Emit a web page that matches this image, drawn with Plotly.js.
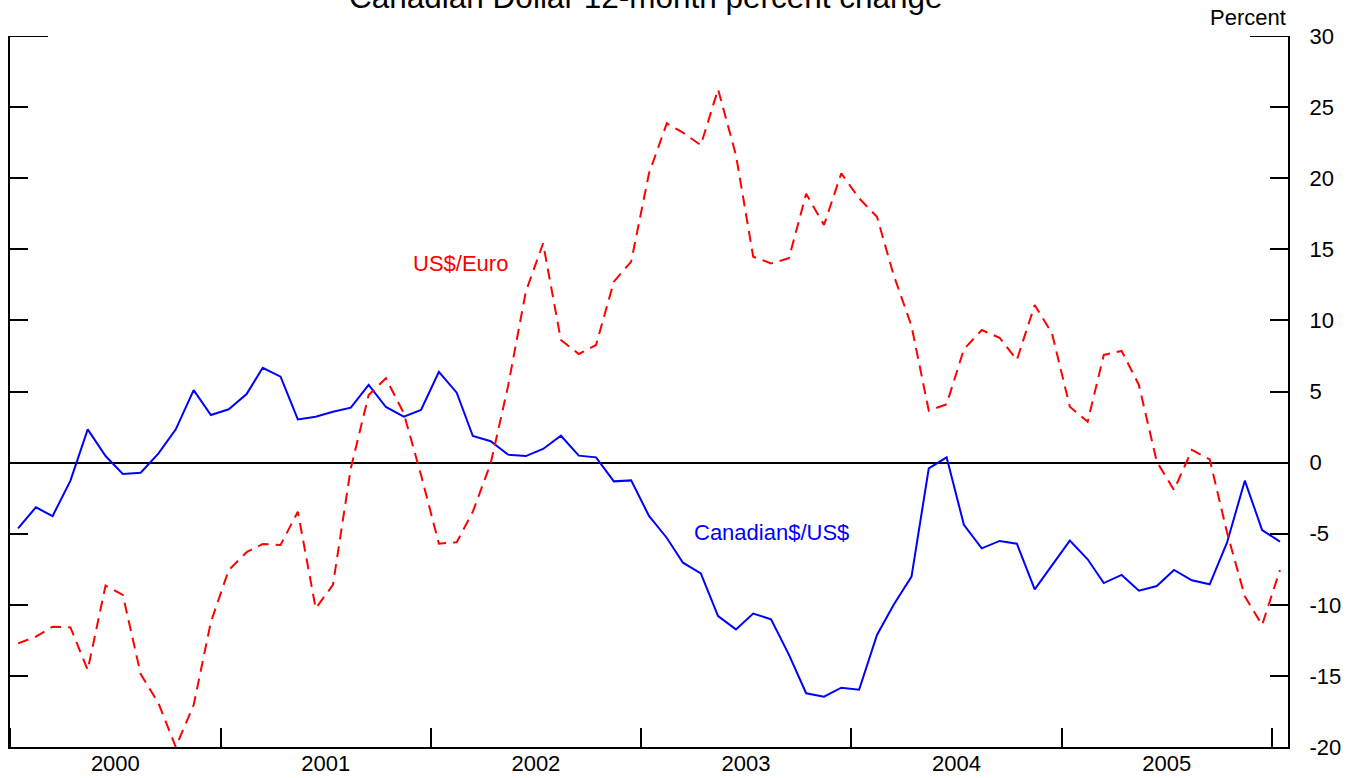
<!DOCTYPE html>
<html>
<head>
<meta charset="utf-8">
<script src="https://cdn.plot.ly/plotly-3.0.1.min.js"></script>
<style>
  html, body { margin: 0; padding: 0; background: #fff; }
  #chart { width: 1352px; height: 778px; }
</style>
</head>
<body>
<div id="chart"></div>
<script>
const months = [
  '2000-01','2000-02','2000-03','2000-04','2000-05','2000-06','2000-07','2000-08','2000-09','2000-10','2000-11','2000-12',
  '2001-01','2001-02','2001-03','2001-04','2001-05','2001-06','2001-07','2001-08','2001-09','2001-10','2001-11','2001-12',
  '2002-01','2002-02','2002-03','2002-04','2002-05','2002-06','2002-07','2002-08','2002-09','2002-10','2002-11','2002-12',
  '2003-01','2003-02','2003-03','2003-04','2003-05','2003-06','2003-07','2003-08','2003-09','2003-10','2003-11','2003-12',
  '2004-01','2004-02','2004-03','2004-04','2004-05','2004-06','2004-07','2004-08','2004-09','2004-10','2004-11','2004-12',
  '2005-01','2005-02','2005-03','2005-04','2005-05','2005-06','2005-07','2005-08','2005-09','2005-10','2005-11','2005-12',
  '2006-01'
];

const cadUsd = [
  -4.62, -3.14, -3.76, -1.27, 2.34, 0.46, -0.80, -0.71, 0.65, 2.34, 5.10, 3.35,
  3.75, 4.82, 6.67, 6.04, 3.04, 3.23, 3.58, 3.86, 5.46, 3.91, 3.23, 3.70,
  6.39, 4.92, 1.87, 1.50, 0.56, 0.46, 0.96, 1.89, 0.49, 0.37, -1.32, -1.25,
  -3.75, -5.30, -7.04, -7.79, -10.79, -11.73, -10.62, -11.02, -13.50, -16.22, -16.46, -15.83,
  -15.97, -12.12, -10.00, -8.02, -0.40, 0.37, -4.37, -6.03, -5.51, -5.70, -8.91, -7.20,
  -5.49, -6.80, -8.47, -7.90, -9.01, -8.68, -7.55, -8.28, -8.56, -5.63, -1.27, -4.74,
  -5.56
];

const usdEuro = [
  -12.71, -12.24, -11.54, -11.59, -14.58, -8.65, -9.31, -14.87, -16.93, -20.00, -17.05, -11.20,
  -7.55, -6.30, -5.72, -5.79, -3.45, -10.25, -8.60, -0.40, 4.75, 5.93, 3.47, -0.87,
  -5.70, -5.60, -3.45, -0.05, 5.34, 12.02, 15.42, 8.62, 7.64, 8.27, 12.72, 14.13,
  20.34, 23.86, 23.20, 22.33, 26.25, 21.63, 14.48, 14.01, 14.37, 18.90, 16.71, 20.34,
  18.58, 17.29, 13.19, 9.60, 3.65, 4.10, 7.97, 9.32, 8.78, 7.22, 11.08, 9.10,
  3.93, 2.88, 7.57, 7.85, 5.46, 0.07, -1.93, 0.89, 0.23, -4.90, -9.40, -11.42,
  -7.55
];

const yTickVals = [-20, -15, -10, -5, 0, 5, 10, 15, 20, 25, 30];
const yTickText = ['-20', '-15', '-10', '-5', '0', '5', '10', '15', '20', '25', '30'];

const titleText = 'Canadian Dollar 12-month percent change';
const unitText = 'Percent';
const labelEuro = 'US$/Euro';
const labelCad = 'Canadian$/US$';

const FONT = 'Arial, "Liberation Sans", sans-serif';
const xDates = months.map(m => m + '-15');

const traces = [
  {
    x: xDates, y: cadUsd, type: 'scatter', mode: 'lines', name: labelCad,
    line: { color: '#0000ff', width: 2 }, hoverinfo: 'x+y'
  },
  {
    x: xDates, y: usdEuro, type: 'scatter', mode: 'lines', name: labelEuro,
    line: { color: '#ff0000', width: 2, dash: '11px,7px' }, hoverinfo: 'x+y'
  }
];

const longTick = 38 / 1278;

const layout = {
  width: 1352, height: 778,
  margin: { l: 10, r: 64, t: 36, b: 31, pad: 0 },
  paper_bgcolor: '#fff', plot_bgcolor: '#fff',
  showlegend: false,
  font: { family: FONT, size: 22, color: '#000' },
  xaxis: {
    type: 'date',
    range: ['2000-01-01', '2006-01-29'],
    showline: true, linecolor: '#000', linewidth: 2,
    ticks: 'inside', ticklen: 19, tickwidth: 2, tickcolor: '#000',
    tick0: '2000-01-01', dtick: 'M12',
    ticklabelmode: 'period', tickformat: '%Y',
    tickfont: { family: FONT, size: 22, color: '#000' },
    ticklabelstandoff: -4,
    showgrid: false, zeroline: false, mirror: false
  },
  yaxis: {
    side: 'right',
    range: [-20, 30],
    tickmode: 'array', tickvals: yTickVals, ticktext: yTickText,
    showline: true, linecolor: '#000', linewidth: 2, mirror: 'ticks',
    ticks: 'inside', ticklen: 18, tickwidth: 2, tickcolor: '#000',
    tickfont: { family: FONT, size: 22, color: '#000' },
    ticklabelstandoff: 15,
    showgrid: false,
    zeroline: true, zerolinecolor: '#000', zerolinewidth: 2
  },
  shapes: [
    { type: 'line', xref: 'paper', yref: 'y', x0: 0, x1: longTick, y0: 30, y1: 30,
      line: { color: '#000', width: 2 } },
    { type: 'line', xref: 'paper', yref: 'y', x0: 1 - longTick, x1: 1, y0: 30, y1: 30,
      line: { color: '#000', width: 2 } }
  ],
  annotations: [
    { text: titleText, xref: 'paper', yref: 'paper', x: 0.498, y: 1.027,
      xanchor: 'center', yanchor: 'bottom', showarrow: false,
      font: { family: FONT, size: 31.5, color: '#000' } },
    { text: unitText, xref: 'paper', yref: 'paper', x: 1, y: 1.006,
      xanchor: 'right', yanchor: 'bottom', showarrow: false,
      font: { family: FONT, size: 22, color: '#000' } },
    { text: labelEuro, xref: 'x', yref: 'y', x: '2002-02-21', y: 13.97,
      xanchor: 'center', yanchor: 'middle', showarrow: false,
      font: { family: FONT, size: 22, color: '#ff0000' } },
    { text: labelCad, xref: 'x', yref: 'y', x: '2003-08-15', y: -4.95,
      xanchor: 'center', yanchor: 'middle', showarrow: false,
      font: { family: FONT, size: 22, color: '#0000ff' } }
  ]
};

Plotly.newPlot('chart', traces, layout, { displayModeBar: false, staticPlot: true });
</script>
</body>
</html>
